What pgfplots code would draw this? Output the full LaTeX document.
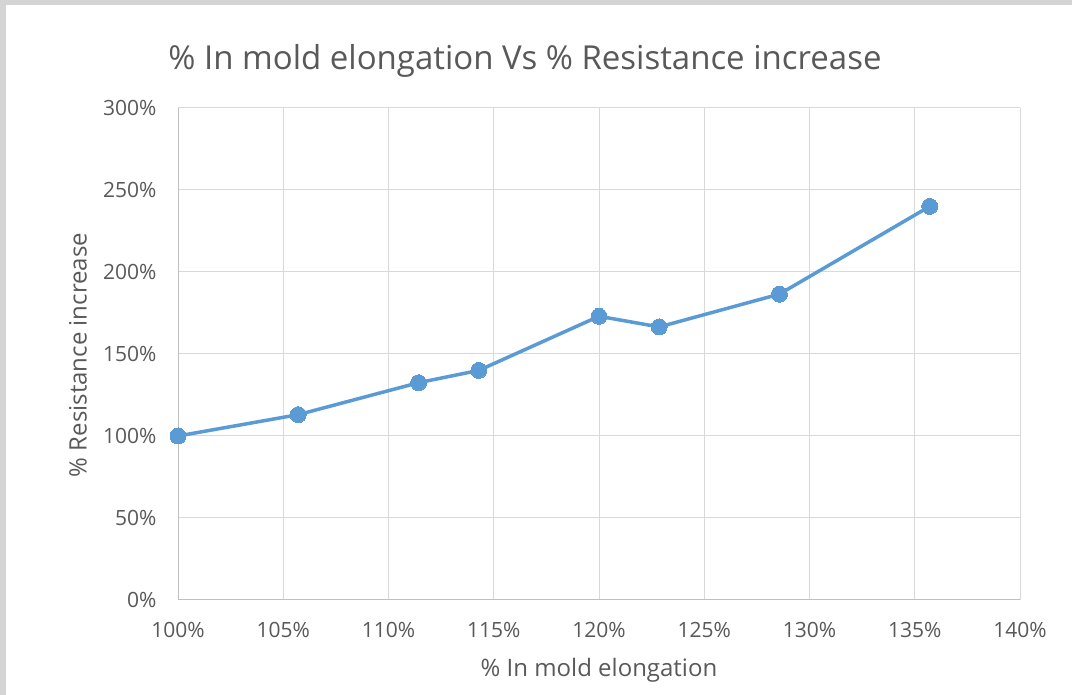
\documentclass[border=0pt]{standalone}
\usepackage{pgfplots}
\pgfplotsset{compat=1.18}
\usepackage{fontspec}
\setmainfont{Open Sans}
\definecolor{txt}{HTML}{595959}
\definecolor{grd}{HTML}{D9D9D9}
\definecolor{axl}{HTML}{BFBFBF}
\definecolor{ser}{HTML}{5B9BD5}
\definecolor{frame}{HTML}{D4D4D4}
\begin{document}
\begin{tikzpicture}[x=1pt,y=1pt]
\path[use as bounding box] (0,0) rectangle (1072,695);
\fill[white] (0,0) rectangle (1072,695);
\fill[frame] (0,690) rectangle (1072,695);
\fill[frame] (0,0) rectangle (6,695);
\begin{axis}[
  at={(178pt,95pt)}, anchor=south west,
  scale only axis, width=842pt, height=492pt,
  xmin=100, xmax=140, ymin=0, ymax=300,
  xtick={100,105,...,140},
  xticklabels={100\%,105\%,110\%,115\%,120\%,125\%,130\%,135\%,140\%},
  ytick={0,50,...,300},
  yticklabels={0\%,50\%,100\%,150\%,200\%,250\%,300\%},
  grid=major,
  major grid style={grd, line width=1pt},
  axis line style={axl, line width=1pt},
  axis x line*=bottom, axis y line*=left,
  major tick length=0pt,
  tick label style={font=\fontsize{21}{24}\selectfont, text=txt},
  xticklabel style={yshift=-19pt},
  yticklabel style={xshift=-18pt},
  clip=false,
]
\addplot[ser, line width=3.5pt, mark=*, mark size=8pt, mark options={fill=ser, draw=ser, line width=0pt}]
coordinates {
(100,100) (105.71,113) (111.43,132.5) (114.29,140) (120,173) (122.86,166.5) (128.57,186.5) (135.71,240)
};
\end{axis}
\node[text=txt, font=\fontsize{33}{38}\selectfont] at (525,634) {\% In mold elongation Vs \% Resistance increase};
\node[text=txt, font=\fontsize{24}{28}\selectfont] at (599,25) {\% In mold elongation};
\node[text=txt, font=\fontsize{24}{28}\selectfont, rotate=90] at (78,340) {\% Resistance increase};
\end{tikzpicture}
\end{document}
